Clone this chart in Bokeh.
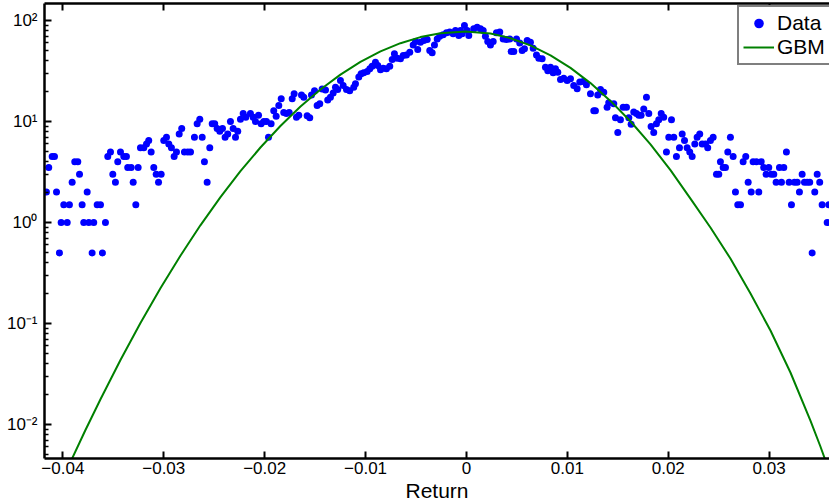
from bokeh.plotting import figure
from bokeh.models import LinearAxis, FixedTicker, Legend, LegendItem, Range1d
from bokeh.embed import file_html
from bokeh.resources import INLINE

# ---------------- data ----------------
ret = [
    -0.04163, -0.04140, -0.04106, -0.04083, -0.04063, -0.04034, -0.04017, -0.03991, -0.03957, -0.03935,
    -0.03908, -0.03882, -0.03852, -0.03835, -0.03809, -0.03793, -0.03759, -0.03743, -0.03710, -0.03694,
    -0.03660, -0.03627, -0.03608, -0.03578, -0.03555, -0.03528, -0.03505, -0.03479, -0.03456, -0.03429,
    -0.03396, -0.03370, -0.03357, -0.03323, -0.03303, -0.03277, -0.03254, -0.03231, -0.03198, -0.03171,
    -0.03149, -0.03125, -0.03099, -0.03075, -0.03052, -0.03026, -0.03000, -0.02973, -0.02950, -0.02924,
    -0.02897, -0.02874, -0.02847, -0.02822, -0.02795, -0.02762, -0.02735, -0.02696, -0.02669, -0.02643,
    -0.02619, -0.02597, -0.02570, -0.02544, -0.02520, -0.02495, -0.02471, -0.02445, -0.02418, -0.02392,
    -0.02366, -0.02339, -0.02312, -0.02289, -0.02267, -0.02240, -0.02213, -0.02187, -0.02141, -0.02114,
    -0.02091, -0.02061, -0.02035, -0.02009, -0.01982, -0.01962, -0.01936, -0.01910, -0.01886, -0.01860,
    -0.01836, -0.01811, -0.01784, -0.01757, -0.01727, -0.01708, -0.01685, -0.01662, -0.01635, -0.01612,
    -0.01579, -0.01553, -0.01536, -0.01506, -0.01480, -0.01454, -0.01430, -0.01397, -0.01375, -0.01348,
    -0.01321, -0.01298, -0.01276, -0.01249, -0.01222, -0.01189, -0.01157, -0.01117, -0.01100, -0.01067,
    -0.01044, -0.01018, -0.00984, -0.00958, -0.00935, -0.00902, -0.00879, -0.00852, -0.00826, -0.00793,
    -0.00760, -0.00736, -0.00714, -0.00687, -0.00654, -0.00627, -0.00595, -0.00562, -0.00528, -0.00505,
    -0.00483, -0.00456, -0.00423, -0.00389, -0.00364, -0.00340, -0.00317, -0.00290, -0.00265, -0.00231,
    -0.00198, -0.00166, -0.00132, -0.00109, -0.00076, -0.00059, -0.00043, -0.00020, 0.00007, 0.00023,
    0.00072, 0.00106, 0.00139, 0.00166, 0.00188, 0.00211, 0.00238, 0.00265, 0.00297, 0.00330,
    0.00364, 0.00396, 0.00429, 0.00443, 0.00469, 0.00496, 0.00528, 0.00552, 0.00575, 0.00602,
    0.00634, 0.00661, 0.00694, 0.00717, 0.00750, 0.00783, 0.00806, 0.00833, 0.00859, 0.00882,
    0.00905, 0.00932, 0.00964, 0.00998, 0.01031, 0.01063, 0.01097, 0.01123, 0.01157, 0.01189,
    0.01229, 0.01262, 0.01278, 0.01301, 0.01328, 0.01361, 0.01394, 0.01410, 0.01460, 0.01477,
    0.01500, 0.01526, 0.01553, 0.01586, 0.01609, 0.01632, 0.01658, 0.01685, 0.01708, 0.01731,
    0.01757, 0.01784, 0.01807, 0.01830, 0.01856, 0.01883, 0.01906, 0.01930, 0.01955, 0.01982,
    0.02005, 0.02032, 0.02055, 0.02081, 0.02111, 0.02138, 0.02161, 0.02187, 0.02213, 0.02237,
    0.02263, 0.02286, 0.02312, 0.02336, 0.02369, 0.02391, 0.02418, 0.02445, 0.02478, 0.02501,
    0.02517, 0.02544, 0.02567, 0.02590, 0.02616, 0.02643, 0.02666, 0.02689, 0.02716, 0.02742,
    0.02768, 0.02792, 0.02822, 0.02841, 0.02874, 0.02897, 0.02921, 0.02946, 0.02970, 0.02996,
    0.03020, 0.03046, 0.03069, 0.03102, 0.03122, 0.03145, 0.03171, 0.03198, 0.03221, 0.03251,
    0.03278, 0.03300, 0.03327, 0.03350, 0.03377, 0.03402, 0.03426, 0.03452, 0.03476, 0.03501,
    0.03525, 0.03575, 0.03591,
]
freq = [
    2.0, 3.5, 4.5, 4.5, 2.0, 0.5, 1.0, 1.5, 1.0, 1.5,
    2.5, 4.0, 4.0, 3.0, 1.5, 1.0, 2.0, 1.0, 0.5, 1.0,
    1.5, 1.5, 0.5, 1.0, 4.5, 5.0, 3.0, 2.5, 4.0, 5.0,
    4.5, 4.5, 3.5, 3.5, 2.5, 1.5, 3.5, 5.5, 5.5, 6.0,
    6.5, 5.0, 3.5, 3.0, 2.5, 3.0, 6.5, 7.0, 6.0, 5.5,
    4.5, 5.0, 7.5, 8.5, 5.0, 5.0, 5.0, 7.0, 9.5, 10.5,
    7.0, 4.0, 2.5, 5.5, 9.5, 9.5, 8.5, 8.0, 8.5, 7.0,
    7.5, 10.0, 8.5, 7.0, 8.0, 10.5, 12.0, 11.0, 12.0, 11.0,
    10.0, 11.5, 9.5, 10.0, 10.0, 7.0, 9.5, 12.8, 11.3, 14.4,
    16.8, 12.3, 12.0, 12.3, 16.8, 18.8, 11.0, 11.5, 18.3, 17.4,
    11.4, 10.9, 18.3, 20.2, 14.4, 15.0, 21.0, 20.5, 16.3, 17.4,
    19.2, 21.8, 20.7, 25.5, 22.7, 20.7, 20.2, 21.8, 23.6, 27.5,
    29.7, 30.4, 31.3, 33.2, 35.3, 38.6, 35.8, 32.6, 33.6, 33.2,
    35.3, 41.0, 46.8, 42.4, 41.7, 45.0, 45.6, 48.6, 57.3, 62.0,
    51.5, 61.0, 63.3, 64.8, 50.4, 47.8, 57.3, 65.6, 69.8, 72.1,
    75.6, 76.8, 73.8, 79.5, 71.1, 79.5, 73.8, 89.3, 79.5, 71.1,
    82.6, 85.8, 82.6, 79.5, 69.8, 62.0, 57.3, 62.0, 75.6, 76.8,
    65.6, 64.8, 65.6, 49.3, 49.3, 65.6, 59.8, 50.4, 52.4, 63.3,
    61.0, 53.2, 45.6, 42.4, 41.7, 34.5, 31.8, 34.5, 30.4, 33.2,
    30.7, 26.0, 26.8, 25.5, 26.5, 22.7, 21.1, 24.6, 24.9, 23.1,
    18.8, 12.8, 12.8, 18.3, 20.7, 19.5, 13.8, 15.3, 15.0, 10.9,
    7.8, 10.4, 13.8, 13.8, 10.9, 9.4, 12.4, 12.0, 11.5, 11.5,
    13.3, 17.4, 12.0, 8.9, 7.8, 9.5, 10.4, 12.0, 11.0, 5.0,
    7.0, 10.4, 7.0, 4.5, 5.5, 7.5, 6.5, 5.5, 5.0, 4.5,
    6.0, 7.0, 7.5, 6.0, 6.0, 5.5, 6.5, 7.0, 3.0, 3.0,
    4.0, 3.5, 3.5, 5.0, 7.0, 4.5, 2.0, 1.5, 1.5, 4.0,
    4.5, 2.5, 2.0, 4.0, 4.0, 2.0, 4.0, 3.5, 3.0, 3.5,
    3.0, 3.0, 2.5, 3.5, 2.5, 3.5, 5.0, 2.5, 1.5, 2.5,
    2.5, 2.0, 3.0, 2.5, 2.5, 2.5, 0.5, 2.0, 3.0, 2.5,
    1.5, 1.0, 1.5,
]

gbm_ret = [
    -0.03925, -0.03776, -0.03627, -0.03429, -0.03231, -0.03033, -0.02835, -0.02637, -0.02438, -0.02240,
    -0.02042, -0.01844, -0.01645, -0.01447, -0.01249, -0.01051, -0.00852, -0.00654, -0.00456, -0.00258,
    -0.00010, 0.00238, 0.00436, 0.00634, 0.00833, 0.01031, 0.01229, 0.01427, 0.01625, 0.01824,
    0.02022, 0.02220, 0.02418, 0.02616, 0.02815, 0.03013, 0.03211, 0.03409, 0.03508, 0.03558,
]
gbm_pdf = [
    0.004243, 0.008822, 0.01780, 0.04350, 0.1012, 0.2237, 0.4691, 0.9382, 1.780, 3.220,
    5.528, 9.025, 14.05, 20.75, 29.13, 38.91, 49.44, 59.60, 68.48, 74.87,
    77.83, 74.18, 66.80, 56.69, 45.23, 33.95, 24.00, 15.99, 10.05, 5.933,
    3.295, 1.724, 0.8922, 0.4401, 0.1982, 0.08523, 0.03272, 0.01095, 0.006056, 0.004401,
]

x_ticks = [-0.04, -0.03, -0.02, -0.01, 0, 0.01, 0.02, 0.03]
x_tick_labels = ["\u22120.04", "\u22120.03", "\u22120.02", "\u22120.01", "0", "0.01", "0.02", "0.03"]
y_ticks = [0.01, 0.1, 1, 10, 100]
y_tick_labels = ["10\u207b\u00b2", "10\u207b\u00b9", "10\u2070", "10\u00b9", "10\u00b2"]
x_label = "Return"
series_names = ["Data", "GBM"]

X_MIN, X_MAX = -0.04182, 0.03598
Y_MIN, Y_MAX = 0.004607, 147.3

FONT = "Liberation Sans"

y_minor = [m * 10.0 ** e for e in range(-3, 3) for m in range(2, 10)]

p = figure(width=829, height=504, y_axis_type="log",
           x_range=Range1d(X_MIN, X_MAX), y_range=Range1d(Y_MIN, Y_MAX),
           output_backend="svg", toolbar_location=None,
           min_border_left=44, min_border_right=0, min_border_top=3, min_border_bottom=46)
p.outline_line_color = None
p.xgrid.grid_line_color = None
p.ygrid.grid_line_color = None
p.background_fill_color = "white"
p.border_fill_color = "white"

r_data = p.scatter(ret, freq, marker="circle", size=7, fill_color="#0000ff", line_color=None)
r_gbm = p.line(gbm_ret, gbm_pdf, line_color="#008000", line_width=2)


def style_axis(ax):
    ax.axis_line_width = 2.5
    ax.axis_line_color = "black"
    ax.major_tick_line_width = 2
    ax.major_tick_line_color = "black"
    ax.minor_tick_line_color = "black"
    ax.minor_tick_line_width = 1.5
    ax.major_tick_in = 7
    ax.major_tick_out = 0
    ax.minor_tick_in = 4
    ax.minor_tick_out = 0
    ax.major_label_text_font = FONT
    ax.major_label_text_font_size = "17px"
    ax.major_label_text_color = "black"


xa = p.xaxis[0]
style_axis(xa)
xa.ticker = FixedTicker(ticks=x_ticks)
xa.major_label_overrides = dict(zip(x_ticks, x_tick_labels))
xa.major_label_standoff = 3
xa.axis_label = x_label
xa.axis_label_text_font = FONT
xa.axis_label_text_font_size = "21px"
xa.axis_label_text_font_style = "normal"
xa.axis_label_text_color = "black"
xa.axis_label_standoff = 2

ya = p.yaxis[0]
style_axis(ya)
ya.ticker = FixedTicker(ticks=y_ticks, minor_ticks=y_minor)
ya.major_label_overrides = dict(zip(y_ticks, y_tick_labels))
ya.major_label_standoff = 7

top = LinearAxis(ticker=FixedTicker(ticks=x_ticks))
style_axis(top)
top.major_label_text_font_size = "0px"
top.major_label_text_alpha = 0
top.major_label_standoff = 0
p.add_layout(top, "above")

legend = Legend(
    items=[LegendItem(label=series_names[0], renderers=[r_data]),
           LegendItem(label=series_names[1], renderers=[r_gbm])],
    location=(693, 393), orientation="vertical",
    padding=4, spacing=0, margin=0,
    glyph_width=31, glyph_height=24, label_height=24, label_width=62, label_standoff=3,
    label_text_font=FONT, label_text_font_size="21px", label_text_color="black",
    border_line_color="black", border_line_width=2,
    background_fill_color="white", background_fill_alpha=1.0,
)
p.add_layout(legend)

open("out.html", "w").write(file_html(p, INLINE))
